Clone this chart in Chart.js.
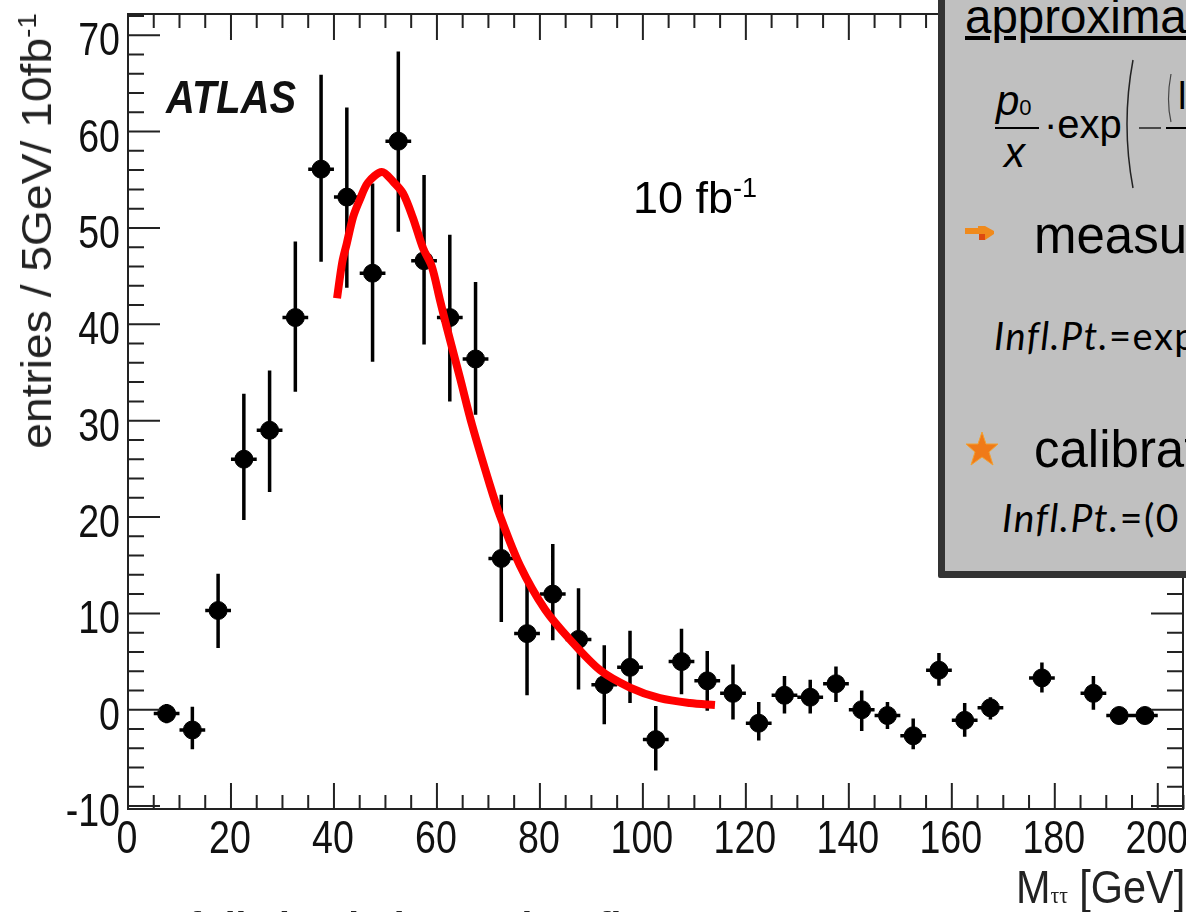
<!DOCTYPE html>
<html>
<head>
<meta charset="utf-8">
<title>ATLAS M_tautau</title>
<script src="https://cdn.jsdelivr.net/npm/chart.js@4"></script>
<style>
html, body { margin: 0; padding: 0; background: #fff; overflow: hidden; }
#wrap { position: relative; width: 1186px; height: 912px; overflow: hidden; font-family: "Liberation Sans", sans-serif; color: #000; }
#wrap div, #wrap svg { position: absolute; white-space: nowrap; }
canvas { position: absolute; left: 0; top: 0; }
.cal { font-family: Lato, sans-serif; letter-spacing: 1.5px; }
sup { font-size: 60%; line-height: 0; }
#panel { left: 938px; top: -20px; width: 260px; height: 584px; background: #c0c0c0; border: 7px solid #333; border-radius: 2px; }
</style>
</head>
<body>
<div id="wrap">
  <canvas id="chart" width="1186" height="912"></canvas>
  <div id="ytitle" style="left:37px;top:231px;font-size:42px;color:#222;transform:translate(-50%,-50%) rotate(-90deg) scaleX(1.1)">entries / 5GeV/ 10fb<sup>-1</sup></div>
  <div style="left:166px;top:69px;font-size:47px;font-weight:bold;font-style:italic;color:#111;transform:scaleX(.85);transform-origin:left">ATLAS</div>
  <div style="left:633px;top:172px;font-size:45px">10 fb<sup>-1</sup></div>
  <div style="left:1016px;top:860px;font-size:46px;color:#222;transform:scaleX(.9);transform-origin:left">M<span style="font-size:24px;font-family:'Liberation Serif'">ττ</span> [GeV]</div>
  <div style="left:50px;top:904px;font-size:39px;font-weight:bold;color:#222">ATLAS full simulation and 10 fb</div>

  <div id="panel"></div>
  <div style="left:965px;top:-11px;font-size:47.5px;text-decoration:underline">approximation</div>
  <div style="left:996px;top:77px;font-size:42px;font-style:italic">p<span style="font-style:normal;font-size:22px">0</span></div>
  <div style="left:995px;top:127px;width:44px;height:2px;background:#000"></div>
  <div style="left:1004px;top:129px;font-size:42px;font-style:italic">x</div>
  <div style="left:1044px;top:102px;font-size:40px">·exp</div>
  <svg style="left:1122px;top:56px" width="64" height="136">
    <path d="M11 4 Q-1 68 11 132" fill="none" stroke="#222" stroke-width="1.5"/>
    <path d="M17 72 H39" stroke="#222" stroke-width="1.5"/>
    <path d="M44 72 H64" stroke="#000" stroke-width="2"/>
    <path d="M49 18 Q44 44 49 66" fill="none" stroke="#444" stroke-width="1.2"/>
  </svg>
  <div style="left:1178px;top:75px;font-size:38px">ln</div>
  <svg style="left:965px;top:225px" width="30" height="16">
    <path d="M0 3 H13 V1 H20 L29 6 V9 L20 15 H14 V9 H0 Z" fill="#f08a1c"/>
    <path d="M14 9 H20 L20 15 H14 Z" fill="#dd4a10"/>
  </svg>
  <div style="left:1034px;top:206px;font-size:51px">measured</div>
  <div class="cal" style="left:994px;top:312px;font-size:38px"><i>Infl.Pt.</i>=exp</div>
  <svg style="left:965px;top:431px" width="34" height="36">
    <path d="M17 1 L21 13 H33 L24 21 L28 34 L17 26 L6 34 L10 21 L1 13 H13 Z" fill="#f07a18" stroke="#f3a030" stroke-width="1"/>
  </svg>
  <div style="left:1034px;top:420px;font-size:51px">calibrated</div>
  <div class="cal" style="left:1002px;top:494px;font-size:39px"><i>Infl.Pt.</i>=(0</div>
</div>
<script>
// bin centres, GeV
var xBins = [7.5, 12.5, 17.5, 22.5, 27.5, 32.5, 37.5, 42.5, 47.5, 52.5, 57.5, 62.5, 67.5, 72.5, 77.5, 82.5, 87.5, 92.5, 97.5,
    102.5, 107.5, 112.5, 117.5, 122.5, 127.5, 132.5, 137.5, 142.5, 147.5, 152.5, 157.5, 162.5, 167.5, 177.5, 187.5, 192.5, 197.5];
var yValues = [-0.4, -2.1, 10.3, 26, 29, 40.7, 56.1, 53.2, 45.3, 59, 46.6, 40.7, 36.4, 15.7, 7.9, 12, 7.3, 2.6, 4.4,
    -3.1, 5, 3, 1.7, -1.4, 1.5, 1.3, 2.7, 0, -0.6, -2.7, 4.1, -1.1, 0.2, 3.3, 1.7, -0.6, -0.6];
var yUpper = [0.6, 0.3, 14.1, 32.8, 35.2, 48.6, 65.9, 62.5, 54.6, 68.3, 55.5, 49.3, 44.4, 22.3, 14, 17.2, 12.6, 6.7, 8.2,
    0.4, 8.4, 6.1, 4.7, 0.8, 3.5, 3.1, 4.5, 2, 0.8, -0.9, 5.9, 0.7, 1.3, 4.9, 3.5, 0.3, 0.3];
var yLower = [-1.4, -4.1, 6.4, 19.7, 22.6, 33, 46.5, 43.8, 36.1, 49.6, 37.9, 32, 30.6, 9.1, 1.5, 7.2, 2.1, -1.5, 0.7,
    -6.3, 1.6, -0.1, -1, -3.2, -0.4, -0.4, 0.8, -2.2, -2, -4.1, 2.5, -2.8, -1, 1.8, 0, -1.5, -1.5];
var binHalfWidth = 2.5;

// red fit curve
var fitX = [40.6, 41.6, 42.5, 43.7, 45, 46.6, 49.3, 51.5, 53.4, 55.3, 57.3, 59, 60.6, 61.9, 64.5, 66.8, 70.3, 72.2, 76.1, 81, 85.8, 91.7, 97.5, 103.3, 109.1, 114];
var fitY = [42.7, 46.4, 48.4, 51.1, 52.9, 54.7, 55.8, 54.8, 53.6, 51.1, 47.9, 46, 42.5, 39.7, 34.4, 29.6, 23.3, 20.2, 15, 10.4, 7.3, 4.1, 2.3, 1.2, 0.7, 0.5];

var xTicks = [0, 20, 40, 60, 80, 100, 120, 140, 160, 180, 200];
var yTicks = [-10, 0, 10, 20, 30, 40, 50, 60, 70];
var xMinorStep = 5;
var yMinorStep = 2;

function toPoints(xs, ys) {
    return xs.map(function (x, i) { return { x: x, y: ys[i] }; });
}

// error bars as one line with gaps between the segments
var barSegments = [];
xBins.forEach(function (x, i) {
    barSegments.push({ x: x, y: yLower[i] }, { x: x, y: yUpper[i] }, { x: x, y: null });
    barSegments.push({ x: x - binHalfWidth, y: yValues[i] }, { x: x + binHalfWidth, y: yValues[i] }, { x: x, y: null });
});

// the labels in the picture are squeezed sideways, the scale ticks can't do that
function squeezedText(c, text, x, y) {
    c.save();
    c.translate(x, y);
    c.scale(0.8, 1);
    c.fillText(text, 0, 0);
    c.restore();
}

var frame = {
    id: 'frame',
    afterDatasetsDraw: function (chart) {
        var c = chart.ctx, a = chart.chartArea, sx = chart.scales.x, sy = chart.scales.y;
        c.save();
        c.strokeStyle = '#222';
        c.lineWidth = 2;
        c.strokeRect(a.left, a.top, a.right - a.left, a.bottom - a.top);
        c.beginPath();
        for (var v = 0; v <= 205; v += xMinorStep) {
            var px = sx.getPixelForValue(v), len = xTicks.indexOf(v) >= 0 ? 26 : 14;
            c.moveTo(px, a.bottom); c.lineTo(px, a.bottom - len);
            c.moveTo(px, a.top); c.lineTo(px, a.top + len);
        }
        for (var w = -10; w <= 72; w += yMinorStep) {
            var py = sy.getPixelForValue(w), l = yTicks.indexOf(w) >= 0 ? 32 : 16;
            c.moveTo(a.left, py); c.lineTo(a.left + l, py);
            c.moveTo(a.right, py); c.lineTo(a.right - l, py);
        }
        c.stroke();

        c.fillStyle = '#111';
        c.font = '47px "Liberation Sans", sans-serif';
        c.textAlign = 'center';
        xTicks.forEach(function (t) { squeezedText(c, String(t), sx.getPixelForValue(t) - 1, 853); });
        c.textAlign = 'right';
        yTicks.forEach(function (t) { squeezedText(c, String(t), 120, sy.getPixelForValue(t) + 20); });
        c.restore();
    }
};

new Chart(document.getElementById('chart'), {
    type: 'scatter',
    plugins: [frame],
    data: {
        datasets: [
            {
                label: 'fit',
                data: toPoints(fitX, fitY),
                showLine: true,
                borderColor: '#ff0000',
                borderWidth: 8,
                tension: 0.3,
                pointRadius: 0
            },
            {
                label: 'data',
                data: toPoints(xBins, yValues),
                backgroundColor: '#000',
                borderColor: '#000',
                pointRadius: 9,
                pointStyle: 'circle'
            },
            {
                label: 'errors',
                data: barSegments,
                showLine: true,
                spanGaps: false,
                borderColor: '#000',
                borderWidth: 3.5,
                pointRadius: 0
            }
        ]
    },
    options: {
        responsive: false,
        animation: false,
        layout: { autoPadding: false, padding: { top: 14, right: 3, left: 0, bottom: 0 } },
        plugins: { legend: { display: false }, tooltip: { enabled: false } },
        scales: {
            x: {
                type: 'linear',
                min: 0,
                max: 204.9,
                afterBuildTicks: function (s) { s.ticks = xTicks.map(function (v) { return { value: v }; }); },
                afterFit: function (s) { s.height = 103; },
                grid: { display: false, drawTicks: false },
                border: { display: false },
                ticks: { display: false }
            },
            y: {
                min: -10.3,
                max: 72.2,
                afterBuildTicks: function (s) { s.ticks = yTicks.map(function (v) { return { value: v }; }); },
                afterFit: function (s) { s.width = 128; },
                grid: { display: false, drawTicks: false },
                border: { display: false },
                ticks: { display: false }
            }
        }
    }
});
</script>
</body>
</html>
